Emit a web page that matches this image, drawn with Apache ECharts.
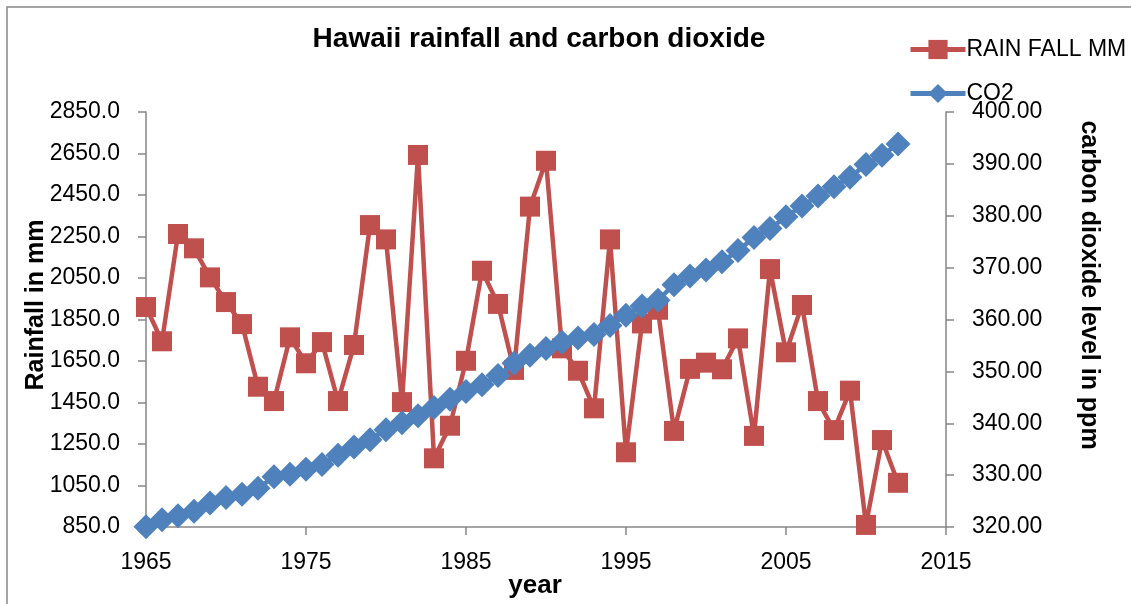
<!DOCTYPE html>
<html>
<head>
<meta charset="utf-8">
<script src="https://cdn.jsdelivr.net/npm/echarts@6/dist/echarts.min.js"></script>
<style>
html,body{margin:0;padding:0;background:#fff;}
#chart{width:1131px;height:604px;}
</style>
</head>
<body>
<div id="chart"></div>
<script>
var years = [1965,1966,1967,1968,1969,1970,1971,1972,1973,1974,1975,1976,1977,1978,1979,1980,1981,1982,1983,1984,1985,1986,1987,1988,1989,1990,1991,1992,1993,1994,1995,1996,1997,1998,1999,2000,2001,2002,2003,2004,2005,2006,2007,2008,2009,2010,2011,2012];
var rainfall = [1910,1745,2262,2193,2053,1934,1828,1526,1457,1764,1639,1741,1457,1727,2305,2236,1452,2643,1181,1338,1651,2085,1925,1607,2394,2615,1711,1603,1422,2236,1210,1831,1897,1313,1612,1642,1610,1759,1289,2093,1692,1920,1457,1317,1507,860,1269,1063];
var co2 = [320.04,321.38,322.16,323.04,324.62,325.68,326.32,327.45,329.68,330.18,331.11,332.04,333.83,335.40,336.84,338.75,340.11,341.45,343.05,344.65,346.12,347.42,349.19,351.57,353.12,354.39,355.61,356.45,357.10,358.83,360.82,362.61,363.73,366.70,368.38,369.55,371.14,373.28,375.80,377.52,379.80,381.90,383.79,385.60,387.43,389.90,391.65,393.85];
var seriesNames = ['RAIN FALL MM','CO2'];
var titleText = 'Hawaii rainfall and carbon dioxide';
var xName = 'year';
var yLeftName = 'Rainfall in mm';
var yRightName = 'carbon dioxide level in ppm';

var FONT = 'Liberation Sans, Arial, sans-serif';
var AXIS_COLOR = '#868686';
var RED = '#C0504D';
var BLUE = '#4F81BD';
var DIAMOND = 'path://M0,-1L1,0L0,1L-1,0Z';

function pairs(xs, ys){ return xs.map(function(x,i){ return [x, ys[i]]; }); }

var chart = echarts.init(document.getElementById('chart'), null, {renderer:'canvas'});
var axisLine = {show:true, lineStyle:{color:AXIS_COLOR, width:1.5}};
var axisTick = {show:true, inside:false, length:8, lineStyle:{color:AXIS_COLOR, width:1.5}};
var labelStyle = {color:'#000', fontFamily:FONT, fontSize:23};

chart.setOption({
  animation:false,
  backgroundColor:'#fff',
  title:{
    text:titleText, left:534, top:20, textAlign:'center',
    textStyle:{fontFamily:FONT, fontWeight:'bold', fontSize:28, color:'#000'}
  },
  legend:{
    orient:'vertical', left:903, top:33,
    itemWidth:55, itemHeight:24, itemGap:21,
    data:seriesNames,
    lineStyle:{width:5},
    textStyle:{fontFamily:FONT, fontSize:23, color:'#000', padding:[0,0,0,-4]}
  },
  grid:{left:146, right:185, top:112, bottom:77, containLabel:false},
  xAxis:{
    type:'value', min:1965, max:2015, interval:10,
    axisLine:axisLine, axisTick:axisTick, splitLine:{show:false},
    axisLabel:Object.assign({margin:24, formatter:function(v){return String(v);}}, labelStyle)
  },
  yAxis:[
    {
      type:'value', min:850, max:2850, interval:200, position:'left',
      axisLine:axisLine, axisTick:axisTick, splitLine:{show:false},
      axisLabel:Object.assign({margin:26, formatter:function(v){return v.toFixed(1);}}, labelStyle)
    },
    {
      type:'value', min:320, max:400, interval:10, position:'right',
      axisLine:axisLine, axisTick:axisTick, splitLine:{show:false},
      axisLabel:Object.assign({margin:26, formatter:function(v){return v.toFixed(2);}}, labelStyle)
    }
  ],
  graphic:[
    {type:'rect', shape:{x:7, y:7, width:1300, height:800}, style:{fill:null, stroke:'#888', lineWidth:1.5}, silent:true, z:-10},
    {type:'text', x:36, y:305, rotation:Math.PI/2, style:{text:yLeftName, fontFamily:FONT, fontWeight:'bold', fontSize:25, fill:'#000', textAlign:'center', textVerticalAlign:'middle'}},
    {type:'text', x:1089, y:285, rotation:-Math.PI/2, style:{text:yRightName, fontFamily:FONT, fontWeight:'bold', fontSize:25, fill:'#000', textAlign:'center', textVerticalAlign:'middle'}},
    {type:'text', x:535, y:586, style:{text:xName, fontFamily:FONT, fontWeight:'bold', fontSize:26, fill:'#000', textAlign:'center', textVerticalAlign:'middle'}}
  ],
  series:[
    {
      name:seriesNames[0], type:'line', yAxisIndex:0,
      data:pairs(years, rainfall),
      symbol:'rect', symbolSize:20, showAllSymbol:true,
      lineStyle:{color:RED, width:4.5},
      itemStyle:{color:RED},
      z:2
    },
    {
      name:seriesNames[1], type:'line', yAxisIndex:1,
      data:pairs(years, co2),
      symbol:DIAMOND, symbolSize:25, showAllSymbol:true,
      lineStyle:{color:BLUE, width:4.5},
      itemStyle:{color:BLUE},
      z:3
    }
  ]
});
</script>
</body>
</html>
